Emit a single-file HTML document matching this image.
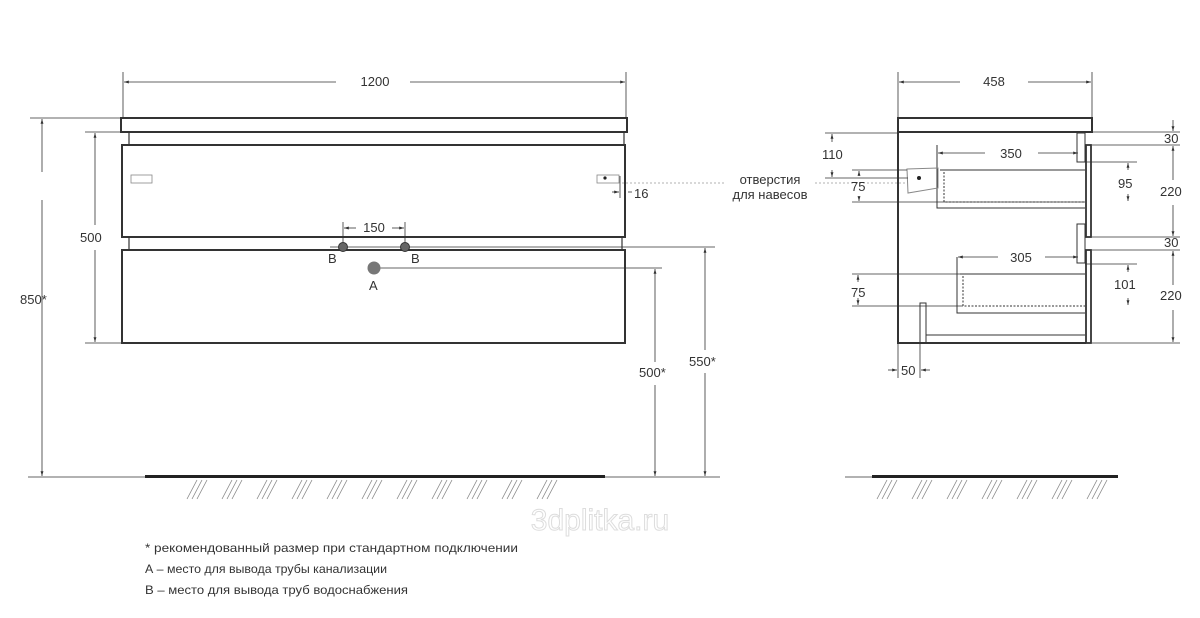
<!DOCTYPE html>
<html><head><meta charset="utf-8"><style>
html,body{margin:0;padding:0;background:#fff}
svg{display:block}
text{font-family:"Liberation Sans","DejaVu Sans",sans-serif;fill:#333}
</style></head><body>
<svg width="1200" height="618" viewBox="0 0 1200 618" xmlns="http://www.w3.org/2000/svg">
<defs>
<marker id="ar" viewBox="0 0 10 10" refX="10" refY="5" markerWidth="6" markerHeight="6" orient="auto-start-reverse"><path d="M0,2 L10,5 L0,8 z" fill="#333"/></marker>
</defs>
<g fill="none" stroke="#333">
<rect x="121" y="118" width="506" height="14" stroke-width="2"/>
<line x1="129" y1="132" x2="129" y2="145" stroke-width="1.2"/>
<line x1="624" y1="132" x2="624" y2="145" stroke-width="1.2"/>
<rect x="122" y="145" width="503" height="92" stroke-width="2"/>
<line x1="129" y1="237" x2="129" y2="250" stroke-width="1.2"/>
<line x1="622" y1="237" x2="622" y2="250" stroke-width="1.2"/>
<rect x="122" y="250" width="503" height="93" stroke-width="2"/>
<rect x="131" y="175" width="21" height="8" stroke="#888" stroke-width="0.8"/>
<rect x="597" y="175" width="22" height="8" stroke="#888" stroke-width="0.8"/>
<g stroke-width="0.8">
<line x1="123" y1="72" x2="123" y2="118"/>
<line x1="626" y1="72" x2="626" y2="118"/>
<line x1="124" y1="82" x2="336" y2="82" marker-start="url(#ar)"/>
<line x1="410" y1="82" x2="625" y2="82" marker-end="url(#ar)"/>
<line x1="30" y1="118" x2="120" y2="118"/>
<line x1="42" y1="119" x2="42" y2="172" marker-start="url(#ar)"/>
<line x1="42" y1="200" x2="42" y2="476" marker-end="url(#ar)"/>
<line x1="28" y1="477" x2="145" y2="477"/>
<line x1="85" y1="132" x2="128" y2="132"/>
<line x1="85" y1="343" x2="121" y2="343"/>
<line x1="95" y1="133" x2="95" y2="225" marker-start="url(#ar)"/>
<line x1="95" y1="250" x2="95" y2="342" marker-end="url(#ar)"/>
<line x1="343" y1="222" x2="343" y2="250"/>
<line x1="405" y1="222" x2="405" y2="250"/>
<line x1="344" y1="228" x2="356" y2="228" marker-start="url(#ar)"/>
<line x1="392" y1="228" x2="404" y2="228" marker-end="url(#ar)"/>
<line x1="330" y1="247" x2="715" y2="247"/>
<line x1="380" y1="268" x2="662" y2="268"/>
<line x1="655" y1="269" x2="655" y2="362" marker-start="url(#ar)"/>
<line x1="655" y1="385" x2="655" y2="476" marker-end="url(#ar)"/>
<line x1="705" y1="248" x2="705" y2="350" marker-start="url(#ar)"/>
<line x1="705" y1="373" x2="705" y2="476" marker-end="url(#ar)"/>
<line x1="605" y1="477" x2="720" y2="477"/>
<line x1="620" y1="176" x2="620" y2="198"/>
<line x1="612" y1="192" x2="619" y2="192" marker-end="url(#ar)"/>
<line x1="628" y1="192" x2="632" y2="192"/>
<line x1="622" y1="183" x2="725" y2="183" stroke-dasharray="2,2" stroke="#999"/>
<line x1="815" y1="183" x2="905" y2="183" stroke-dasharray="2,2" stroke="#999"/>
</g>
<line x1="145" y1="476.5" x2="605" y2="476.5" stroke-width="3" stroke="#222"/>
<line x1="872" y1="476.5" x2="1118" y2="476.5" stroke-width="3" stroke="#222"/>
<line x1="845" y1="477" x2="872" y2="477" stroke-width="0.8"/>
<g stroke="#888" stroke-width="0.8">
<path id="hg" d="M187,499 L197,480 M192,499 L202,480 M197,499 L207,480"/>
<use href="#hg" x="35"/><use href="#hg" x="70"/><use href="#hg" x="105"/><use href="#hg" x="140"/><use href="#hg" x="175"/><use href="#hg" x="210"/><use href="#hg" x="245"/><use href="#hg" x="280"/><use href="#hg" x="315"/><use href="#hg" x="350"/>
<use href="#hg" x="690"/><use href="#hg" x="725"/><use href="#hg" x="760"/><use href="#hg" x="795"/><use href="#hg" x="830"/><use href="#hg" x="865"/><use href="#hg" x="900"/>
</g>
<rect x="898" y="118" width="194" height="14" stroke-width="2"/>
<path d="M898,132 L898,343 L1086,343" stroke-width="2"/>
<rect x="1086" y="145" width="5" height="92" stroke-width="1.8"/>
<rect x="1086" y="250" width="5" height="93" stroke-width="1.8"/>
<g stroke-width="1">
<rect x="1077" y="133" width="8" height="29"/>
<rect x="1077" y="224" width="8" height="39"/>
<path d="M937,145 L937,208 L1085,208 M940,170 L1085,170"/>
<path d="M944,172 L944,202 L1085,202" stroke-dasharray="2,1.5"/>
<path d="M957,257 L957,313 L1085,313 M960,274 L1085,274"/>
<path d="M963,276 L963,306 L1085,306" stroke-dasharray="2,1.5"/>
<rect x="920" y="303" width="6" height="40"/>
<line x1="926" y1="335" x2="1085" y2="335"/>
<path d="M907,169 L938,168 L938,188 L908,193 z" stroke="#888"/>
</g>
<circle cx="919" cy="178" r="2" fill="#222" stroke="none"/>
<g stroke-width="0.8">
<line x1="898" y1="72" x2="898" y2="118"/>
<line x1="1092" y1="72" x2="1092" y2="118"/>
<line x1="899" y1="82" x2="960" y2="82" marker-start="url(#ar)"/>
<line x1="1028" y1="82" x2="1091" y2="82" marker-end="url(#ar)"/>
<line x1="938" y1="153" x2="985" y2="153" marker-start="url(#ar)"/>
<line x1="1038" y1="153" x2="1078" y2="153" marker-end="url(#ar)"/>
<line x1="958" y1="257" x2="998" y2="257" marker-start="url(#ar)"/>
<line x1="1045" y1="257" x2="1078" y2="257" marker-end="url(#ar)"/>
<line x1="825" y1="133" x2="898" y2="133"/>
<line x1="825" y1="178" x2="908" y2="178"/>
<line x1="852" y1="170" x2="907" y2="170"/>
<line x1="852" y1="202" x2="1085" y2="202"/>
<line x1="832" y1="134" x2="832" y2="142" marker-start="url(#ar)"/>
<line x1="832" y1="170" x2="832" y2="177" marker-end="url(#ar)"/>
<line x1="859" y1="171" x2="859" y2="176" marker-start="url(#ar)"/>
<line x1="859" y1="196" x2="859" y2="201" marker-end="url(#ar)"/>
<line x1="852" y1="274" x2="960" y2="274"/>
<line x1="852" y1="306" x2="963" y2="306"/>
<line x1="858" y1="275" x2="858" y2="282" marker-start="url(#ar)"/>
<line x1="858" y1="298" x2="858" y2="305" marker-end="url(#ar)"/>
<line x1="1085" y1="162" x2="1137" y2="162"/>
<line x1="1128" y1="163" x2="1128" y2="170" marker-start="url(#ar)"/>
<line x1="1128" y1="194" x2="1128" y2="201" marker-end="url(#ar)"/>
<line x1="1085" y1="264" x2="1137" y2="264"/>
<line x1="1128" y1="265" x2="1128" y2="272" marker-start="url(#ar)"/>
<line x1="1128" y1="298" x2="1128" y2="305" marker-end="url(#ar)"/>
<line x1="1085" y1="132" x2="1180" y2="132"/>
<line x1="1092" y1="145" x2="1180" y2="145"/>
<line x1="1092" y1="237" x2="1180" y2="237"/>
<line x1="1092" y1="250" x2="1180" y2="250"/>
<line x1="1092" y1="343" x2="1180" y2="343"/>
<line x1="1173" y1="120" x2="1173" y2="131" marker-end="url(#ar)"/>
<line x1="1173" y1="146" x2="1173" y2="180" marker-start="url(#ar)"/>
<line x1="1173" y1="205" x2="1173" y2="236" marker-end="url(#ar)"/>
<line x1="1173" y1="251" x2="1173" y2="285" marker-start="url(#ar)"/>
<line x1="1173" y1="310" x2="1173" y2="342" marker-end="url(#ar)"/>
<line x1="898" y1="343" x2="898" y2="378"/>
<line x1="920" y1="343" x2="920" y2="378"/>
<line x1="888" y1="370" x2="897" y2="370" marker-end="url(#ar)"/>
<line x1="930" y1="370" x2="921" y2="370" marker-end="url(#ar)"/>
</g>
</g>
<circle cx="343" cy="247" r="4.5" fill="#666" stroke="#333"/>
<circle cx="405" cy="247" r="4.5" fill="#666" stroke="#333"/>
<circle cx="374" cy="268" r="6.5" fill="#777"/>
<circle cx="605" cy="178" r="1.6" fill="#222"/>
<g font-size="13">
<text x="375" y="86" text-anchor="middle">1200</text>
<text x="994" y="86" text-anchor="middle">458</text>
<text x="20" y="304">850*</text>
<text x="80" y="242">500</text>
<text x="374" y="232" text-anchor="middle">150</text>
<text x="328" y="263">B</text>
<text x="411" y="263">B</text>
<text x="369" y="290">A</text>
<text x="634" y="198">16</text>
<text x="639" y="377">500*</text>
<text x="689" y="366">550*</text>
<text x="770" y="184" text-anchor="middle">отверстия</text>
<text x="770" y="199" text-anchor="middle">для навесов</text>
<text x="822" y="159">110</text>
<text x="851" y="191">75</text>
<text x="851" y="297">75</text>
<text x="1011" y="158" text-anchor="middle">350</text>
<text x="1021" y="262" text-anchor="middle">305</text>
<text x="1118" y="188">95</text>
<text x="1114" y="289">101</text>
<text x="1164" y="143">30</text>
<text x="1164" y="247">30</text>
<text x="1160" y="196">220</text>
<text x="1160" y="300">220</text>
<text x="901" y="375">50</text>
</g>
<text x="600" y="530" text-anchor="middle" font-size="30" stroke="#ddd" stroke-width="1" style="fill:#fff">3dplitka.ru</text>
<g font-size="12" fill="#333">
<text x="145" y="552" textLength="373" lengthAdjust="spacingAndGlyphs">* рекомендованный размер при стандартном подключении</text>
<text x="145" y="573" textLength="242" lengthAdjust="spacingAndGlyphs">А – место для вывода трубы канализации</text>
<text x="145" y="594" textLength="263" lengthAdjust="spacingAndGlyphs">В – место для вывода труб водоснабжения</text>
</g>
</svg>
</body></html>
